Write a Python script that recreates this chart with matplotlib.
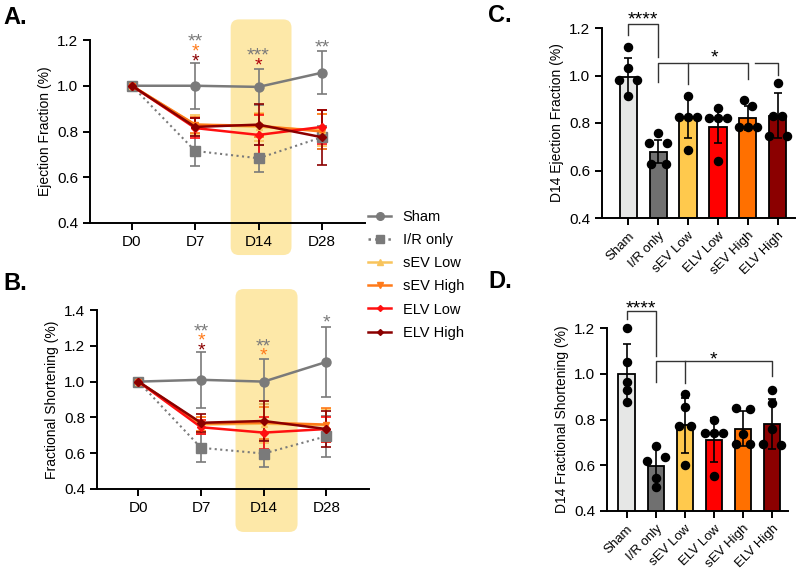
#!/usr/bin/env python3

import numpy as np
import matplotlib
matplotlib.use("Agg")
import matplotlib.pyplot as plt
from matplotlib.patches import FancyBboxPatch
from matplotlib.lines import Line2D

plt.rcParams['font.family'] = ['Liberation Sans', 'DejaVu Sans']

#%% data
days = ['D0', 'D7', 'D14', 'D28']
groups = ['Sham', 'I/R only', 'sEV Low', 'sEV High', 'ELV Low', 'ELV High']

# ejection fraction, time course (mean, error)
ef_sham = [1.0, 1.0, 0.995, 1.057]
ef_sham_err = [0, 0.10, 0.08, 0.095]
ef_ir = [1.0, 0.715, 0.683, 0.775]
ef_ir_err = [0, 0.065, 0.06, 0.05]
ef_sev_low = [1.0, 0.83, 0.82, 0.805]
ef_sev_low_err = [0, 0.04, 0.06, 0.07]
ef_sev_high = [1.0, 0.83, 0.825, 0.80]
ef_sev_high_err = [0, 0.035, 0.05, 0.075]
ef_elv_low = [1.0, 0.815, 0.785, 0.82]
ef_elv_low_err = [0, 0.045, 0.085, 0.075]
ef_elv_high = [1.0, 0.82, 0.83, 0.775]
ef_elv_high_err = [0, 0.04, 0.09, 0.12]

# fractional shortening, time course
fs_sham = [1.0, 1.01, 1.0, 1.11]
fs_sham_err = [0, 0.155, 0.125, 0.195]
fs_ir = [1.0, 0.63, 0.598, 0.695]
fs_ir_err = [0, 0.08, 0.075, 0.115]
fs_sev_low = [1.0, 0.76, 0.765, 0.755]
fs_sev_low_err = [0, 0.04, 0.11, 0.09]
fs_sev_high = [1.0, 0.765, 0.77, 0.76]
fs_sev_high_err = [0, 0.04, 0.09, 0.095]
fs_elv_low = [1.0, 0.745, 0.715, 0.735]
fs_elv_low_err = [0, 0.04, 0.09, 0.07]
fs_elv_high = [1.0, 0.77, 0.78, 0.735]
fs_elv_high_err = [0, 0.05, 0.11, 0.10]

# D14 bar charts (order of bars)
bar_groups = ['Sham', 'I/R only', 'sEV Low', 'ELV Low', 'sEV High', 'ELV High']
d14_ef_mean = [0.995, 0.68, 0.82, 0.785, 0.82, 0.83]
d14_ef_sd = [0.08, 0.05, 0.085, 0.07, 0.05, 0.095]
d14_ef_pts = [[1.12, 1.03, 0.98, 0.98, 0.915],
              [0.757, 0.715, 0.715, 0.626, 0.626],
              [0.914, 0.827, 0.827, 0.827, 0.686],
              [0.864, 0.82, 0.82, 0.82, 0.64],
              [0.897, 0.872, 0.784, 0.784, 0.784],
              [0.967, 0.83, 0.83, 0.745, 0.745]]
d14_fs_mean = [1.0, 0.595, 0.775, 0.71, 0.76, 0.78]
d14_fs_sd = [0.13, 0.09, 0.12, 0.095, 0.075, 0.11]
d14_fs_pts = [[1.2, 1.05, 0.965, 0.93, 0.875],
              [0.685, 0.62, 0.635, 0.545, 0.505],
              [0.91, 0.855, 0.77, 0.77, 0.6],
              [0.80, 0.743, 0.743, 0.743, 0.553],
              [0.85, 0.845, 0.735, 0.695, 0.695],
              [0.93, 0.87, 0.76, 0.695, 0.69]]

#%% styles
GREY = '#7A7A7A'
colors = {'Sham': GREY, 'I/R only': GREY, 'sEV Low': '#F8C45C',
          'sEV High': '#FF7A1A', 'ELV Low': '#FF1010', 'ELV High': '#8B0000'}
bar_colors = ['#E6E7E6', '#707070', '#FFC94D', '#FF0000', '#FF7000', '#8B0000']
markers = {'Sham': 'o', 'I/R only': 's', 'sEV Low': '^', 'sEV High': 'v',
           'ELV Low': 'D', 'ELV High': 'D'}
msize = {'Sham': 6.5, 'I/R only': 6.5, 'sEV Low': 5, 'sEV High': 5,
         'ELV Low': 4, 'ELV High': 4}
jitter_ef = [[0, 0, -0.3, 0.3, 0], [0, -0.3, 0.3, -0.25, 0.25], [0, -0.3, 0, 0.3, 0],
             [0, -0.3, 0, 0.3, 0], [-0.13, 0.13, -0.3, 0, 0.3], [0, -0.15, 0.15, -0.3, 0.3]]
jitter_fs = [[0, 0, 0, 0, 0], [0, -0.3, 0.3, 0, 0], [0, 0, -0.2, 0.2, 0],
             [0, -0.3, 0, 0.3, 0], [-0.25, 0.25, 0, -0.25, 0.25], [0, 0, 0, -0.3, 0.3]]
HIGHLIGHT = '#FDE8A8'
TICK_FS = 11
LABEL_FS = 10
STAR_FS = 14
W, H = 800, 570


def px_axes(fig, left, top, right, bottom):
    return fig.add_axes([left / W, 1 - bottom / H, (right - left) / W, (bottom - top) / H])


def style_axes(ax):
    for s in ['top', 'right']:
        ax.spines[s].set_visible(False)
    for s in ['left', 'bottom']:
        ax.spines[s].set_linewidth(1.4)
    ax.tick_params(width=1.4, length=5, labelsize=TICK_FS, direction='out')


def star(ax, x, y, txt, c='black'):
    # the asterisk glyph sits high in the line, pull it down so (x, y) is its centre
    ax.annotate(txt, (x, y), xytext=(0, -0.27 * STAR_FS), textcoords='offset points',
                color=c, ha='center', va='center', fontsize=STAR_FS,
                annotation_clip=False)


def line_panel(ax, series, ylim, yticks, ylabel, box, stars):
    ax.set_xlim(-0.66, 3.68)
    ax.set_ylim(*ylim)
    x = np.arange(len(days))
    # yellow D14 highlight
    xpp = (3.68 + 0.66) / ax.get_position().width / W
    ypp = (ylim[1] - ylim[0]) / ax.get_position().height / H
    x0, x1, y0, y1 = box
    ax.add_patch(FancyBboxPatch((x0, y0), x1 - x0, y1 - y0,
                                boxstyle='round,pad=0,rounding_size=0.13',
                                mutation_aspect=ypp / xpp, fc=HIGHLIGHT, ec='none',
                                clip_on=False, zorder=0))
    for name, (vals, err) in series.items():
        ls = ':' if name == 'I/R only' else '-'
        ax.errorbar(x, vals, yerr=err, color=colors[name], marker=markers[name],
                    ms=msize[name], ls=ls, lw=1.8 if ls == '-' else 1.5,
                    elinewidth=1.2, capsize=3.5, capthick=1.2, clip_on=False, zorder=3)
    for (xs, ys, txt, c) in stars:
        star(ax, xs, ys, txt, c)
    ax.set_xticks(x)
    ax.set_xticklabels(days)
    ax.set_yticks(yticks)
    ax.set_yticklabels(['%.1f' % v for v in yticks])
    ax.set_ylabel(ylabel, fontsize=LABEL_FS)
    ax.patch.set_alpha(0)
    style_axes(ax)


def bar_panel(ax, means, sds, pts, jit, xlim, ylabel, lines, star_pos):
    x = np.arange(len(bar_groups))
    ax.bar(x, means, width=0.57, color=bar_colors, edgecolor='black', lw=1.3, zorder=2)
    ax.errorbar(x, means, yerr=sds, fmt='none', ecolor='black', elinewidth=1.2,
                capsize=3, capthick=1.2, zorder=3)
    for i in range(len(x)):
        ax.scatter(x[i] + np.array(jit[i]), pts[i], s=34, color='black', zorder=4,
                   clip_on=False)
    for seg in lines:
        ax.plot(seg[0], seg[1], color='#333333', lw=1.0, clip_on=False)
    for (xs, ys, txt) in star_pos:
        star(ax, xs, ys, txt)
    ax.set_xlim(*xlim)
    ax.set_ylim(0.4, 1.2)
    ax.set_yticks([0.4, 0.6, 0.8, 1.0, 1.2])
    ax.set_yticklabels(['0.4', '0.6', '0.8', '1.0', '1.2'])
    ax.set_xticks(x)
    ax.set_xticklabels(bar_groups, rotation=45, ha='right', rotation_mode='anchor')
    ax.set_ylabel(ylabel, fontsize=LABEL_FS)
    style_axes(ax)
    ax.tick_params(axis='x', labelsize=9.5)


#%%
def main():
    fig = plt.figure(figsize=(8, 5.7), dpi=100)

    axA = px_axes(fig, 90, 40, 365, 223)
    ef = {'Sham': (ef_sham, ef_sham_err), 'I/R only': (ef_ir, ef_ir_err),
          'sEV Low': (ef_sev_low, ef_sev_low_err), 'sEV High': (ef_sev_high, ef_sev_high_err),
          'ELV Low': (ef_elv_low, ef_elv_low_err), 'ELV High': (ef_elv_high, ef_elv_high_err)}
    starsA = [(1, 1.213, '**', GREY), (1, 1.17, '*', colors['sEV High']),
              (1, 1.126, '*', colors['ELV High']), (2, 1.152, '***', GREY),
              (2, 1.109, '*', '#B0000A'), (3, 1.19, '**', GREY)]
    line_panel(axA, ef, (0.4, 1.2), [0.4, 0.6, 0.8, 1.0, 1.2], 'Ejection Fraction (%)',
               (1.56, 2.52, 0.26, 1.29), starsA)

    axB = px_axes(fig, 97, 310, 369, 489)
    fs = {'Sham': (fs_sham, fs_sham_err), 'I/R only': (fs_ir, fs_ir_err),
          'sEV Low': (fs_sev_low, fs_sev_low_err), 'sEV High': (fs_sev_high, fs_sev_high_err),
          'ELV Low': (fs_elv_low, fs_elv_low_err), 'ELV High': (fs_elv_high, fs_elv_high_err)}
    starsB = [(1, 1.307, '**', GREY), (1, 1.257, '*', colors['sEV High']),
              (1, 1.20, '*', colors['ELV High']), (2, 1.223, '**', GREY),
              (2, 1.17, '*', colors['sEV High']), (3, 1.357, '*', GREY)]
    line_panel(axB, fs, (0.4, 1.4), [0.4, 0.6, 0.8, 1.0, 1.2, 1.4],
               'Fractional Shortening (%)', (1.55, 2.54, 0.16, 1.517), starsB)

    axC = px_axes(fig, 602, 28, 795, 218)
    linesC = [([0, 0, 1, 1], [1.17, 1.217, 1.217, 1.078]),
              ([1, 1, 4, 4], [0.974, 1.054, 1.054, 0.985]),
              ([2, 2], [1.054, 0.964]),
              ([4.23, 5, 5], [1.054, 1.054, 1.002])]
    bar_panel(axC, d14_ef_mean, d14_ef_sd, d14_ef_pts, jitter_ef, (-0.87, 5.57),
              'D14 Ejection Fraction (%)', linesC,
              [(0.5, 1.255, '****'), (2.87, 1.095, '*')])

    axD = px_axes(fig, 607, 328, 788, 511)
    linesD = [([0, 0, 1, 1], [1.24, 1.273, 1.273, 1.079]),
              ([1, 1, 5, 5], [0.966, 1.054, 1.054, 0.988]),
              ([2, 2], [1.054, 0.958])]
    bar_panel(axD, d14_fs_mean, d14_fs_sd, d14_fs_pts, jitter_fs, (-0.68, 5.55),
              'D14 Fractional Shortening (%)', linesD,
              [(0.5, 1.305, '****'), (3.0, 1.085, '*')])

    # legend
    handles = []
    for name in groups:
        ls = ':' if name == 'I/R only' else '-'
        handles.append(Line2D([], [], color=colors[name], marker=markers[name],
                              ms=msize[name] - 1, ls=ls, lw=1.8))
    fig.legend(handles, groups, loc='upper left', bbox_to_anchor=(362 / W, 1 - 204 / H),
               frameon=False, fontsize=10.5, handlelength=1.6, labelspacing=0.63,
               borderaxespad=0, handletextpad=0.8)

    for txt, xp, yp in [('A.', 3, 17), ('B.', 3, 283), ('C.', 488, 15), ('D.', 488, 282)]:
        fig.text(xp / W, 1 - yp / H, txt, fontsize=17, fontweight='bold', va='center')

    fig.savefig('out.png', dpi=100)


if __name__ == "__main__":
    main()
